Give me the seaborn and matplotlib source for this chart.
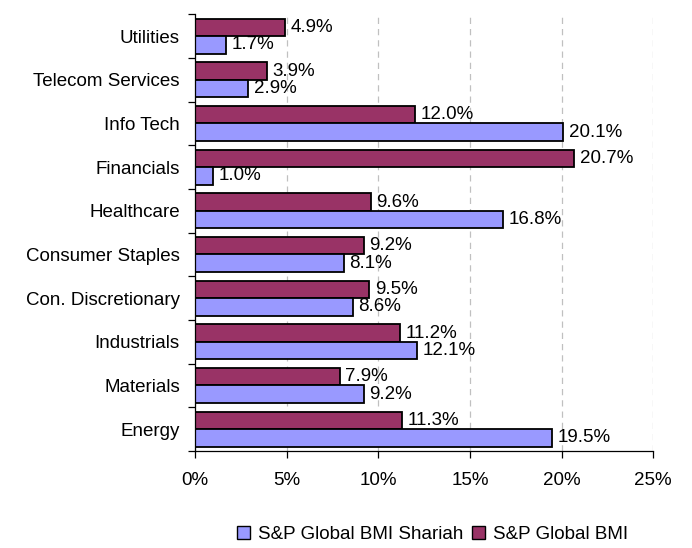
import pandas as pd
import seaborn as sns
import matplotlib.pyplot as plt
from matplotlib.patches import Patch
from matplotlib.ticker import FuncFormatter, MultipleLocator

sectors = ['Utilities', 'Telecom Services', 'Info Tech', 'Financials', 'Healthcare',
           'Consumer Staples', 'Con. Discretionary', 'Industrials', 'Materials', 'Energy']
shariah = [1.7, 2.9, 20.1, 1.0, 16.8, 8.1, 8.6, 12.1, 9.2, 19.5]
bmi = [4.9, 3.9, 12.0, 20.7, 9.6, 9.2, 9.5, 11.2, 7.9, 11.3]
series = ['S&P Global BMI', 'S&P Global BMI Shariah']
colors = {'S&P Global BMI': '#993366', 'S&P Global BMI Shariah': '#9999FF'}

df = pd.DataFrame({
    'sector': sectors * 2,
    'value': bmi + shariah,
    'index': ['S&P Global BMI'] * len(sectors) + ['S&P Global BMI Shariah'] * len(sectors),
})

sns.set_style('white')
plt.rcParams['font.family'] = ['Liberation Sans', 'DejaVu Sans']
plt.rcParams['text.color'] = 'black'
plt.rcParams['xtick.color'] = 'black'
plt.rcParams['ytick.color'] = 'black'
fs = 13.5

fig = plt.figure(figsize=(6.92, 5.48), dpi=100)
ax = fig.add_axes([0.282, 0.177, 0.662, 0.797])

sns.barplot(data=df, y='sector', x='value', hue='index', order=sectors,
            hue_order=series, palette=colors, saturation=1, orient='h', width=0.8,
            edgecolor='black', linewidth=1.3, legend=False, ax=ax)

for cont in ax.containers:
    ax.bar_label(cont, labels=[f'{b.get_width():.1f}%' for b in cont],
                 padding=4, fontsize=fs, color='black')

ax.set_xlim(0, 25)
ax.set_ylim(len(sectors) - 0.5, -0.5)
ax.xaxis.set_major_locator(MultipleLocator(5))
ax.xaxis.set_major_formatter(FuncFormatter(lambda x, _: f'{x:.0f}%'))
ax.set_xlabel('')
ax.set_ylabel('')
ax.grid(axis='x', color='#c0c0c0', linestyle=(0, (5, 4)), linewidth=0.9)
ax.set_axisbelow(True)

for s in ['top', 'right']:
    ax.spines[s].set_visible(False)
for s in ['left', 'bottom']:
    ax.spines[s].set_color('black')
    ax.spines[s].set_linewidth(0.9)

# category boundary ticks on the y axis, labels centred between them
ax.set_yticks([i - 0.5 for i in range(len(sectors) + 1)], minor=False)
ax.set_yticklabels([])
ax.set_yticks(range(len(sectors)), minor=True)
ax.set_yticklabels(sectors, minor=True, fontsize=fs)
ax.tick_params(axis='y', which='major', length=5, width=0.9, color='black', left=True)
ax.tick_params(axis='y', which='minor', length=0, pad=11)
ax.tick_params(axis='x', length=5, width=0.9, color='black', bottom=True,
               labelsize=fs, pad=10)

handles = [Patch(facecolor=colors[s], edgecolor='black', linewidth=1.0) for s in series[::-1]]
fig.legend(handles, series[::-1], loc='center', bbox_to_anchor=(0.625, 0.024),
           ncol=2, frameon=False, fontsize=fs, handlelength=0.7, handleheight=0.7,
           handletextpad=0.4, columnspacing=0.5)

fig.savefig('out.png', dpi=100)
